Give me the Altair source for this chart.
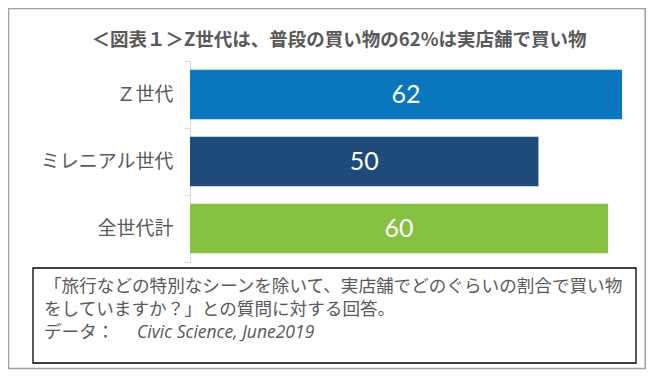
import altair as alt
import pandas as pd

# ---- data ----
categories = ["Ｚ世代", "ミレニアル世代", "全世代計"]
values = [62, 50, 60]
bar_colors = ["#0a76bd", "#1f4a7c", "#86c242"]

title_text = "＜図表１＞Z世代は、普段の買い物の62%は実店舗で買い物"
note_lines = [
    "「旅行などの特別なシーンを除いて、実店舗でどのぐらいの割合で買い物",
    "をしていますか？」との質問に対する回答。",
]
source_label = "データ："
source_text = "Civic Science, June2019"

df = pd.DataFrame({"cat": categories, "value": values})
one = pd.DataFrame({"k": [0]})

CJK = "Noto Sans CJK JP"
GRAY = "#595959"

y_enc = alt.Y(
    "cat:N",
    sort=categories,
    scale=alt.Scale(paddingInner=0, paddingOuter=0),
    axis=alt.Axis(
        title=None,
        labelFont=CJK,
        labelFontSize=19,
        labelColor=GRAY,
        labelPadding=11,
        tickSize=6,
        tickColor="#d9d9d9",
        domainColor="#d9d9d9",
        tickBand="extent",
        grid=False,
    ),
)
x_scale = alt.Scale(domain=[0, 64])

bars = alt.Chart(df).mark_bar(height=alt.RelativeBandSize(0.74)).encode(
    y=y_enc,
    x=alt.X("value:Q", scale=x_scale, axis=None),
    color=alt.Color("cat:N", scale=alt.Scale(domain=categories, range=bar_colors), legend=None),
)

labels = alt.Chart(df).transform_calculate(mid="datum.value / 2").mark_text(
    color="white", font="Lato", fontSize=25, baseline="middle", align="center"
).encode(
    y=alt.Y("cat:N", sort=categories),
    x=alt.X("mid:Q", scale=x_scale, axis=None),
    text=alt.Text("value:Q"),
)

outer = alt.Chart(one).mark_rect(fillOpacity=0, stroke="#a0a0a0", strokeWidth=1.5).encode(
    x=alt.value(-181.5), x2=alt.value(455.2), y=alt.value(-52.5), y2=alt.value(307.5)
)
box = alt.Chart(one).mark_rect(fillOpacity=0, stroke="#000000", strokeWidth=1.3).encode(
    x=alt.value(-157), x2=alt.value(446), y=alt.value(207), y2=alt.value(302)
)
title = alt.Chart(one).mark_text(
    font=CJK, fontSize=18.5, fontWeight="bold", color=GRAY, align="center", baseline="middle"
).encode(x=alt.value(149), y=alt.value(-21), text=alt.value(title_text))

notes = alt.Chart(one).mark_text(
    font=CJK, fontSize=17.6, color=GRAY, align="left", baseline="middle", lineHeight=23
).encode(x=alt.value(-146), y=alt.value(225.5), text=alt.value(note_lines))

src1 = alt.Chart(one).mark_text(
    font=CJK, fontSize=17.6, color=GRAY, align="left", baseline="middle"
).encode(x=alt.value(-146), y=alt.value(271.5), text=alt.value(source_label))

src2 = alt.Chart(one).mark_text(
    font="Open Sans", fontSize=17.5, fontStyle="italic", color=GRAY, align="left", baseline="middle"
).encode(x=alt.value(-53), y=alt.value(271.5), text=alt.value(source_text))

chart = alt.layer(outer, box, title, notes, src1, src2, bars, labels).properties(
    width=446,
    height=201,
    autosize=alt.AutoSizeParams(type="none"),
    padding={"left": 182, "top": 53, "right": 10, "bottom": 108},
).configure_view(stroke=None)

chart.save("out.html", embed_options={"renderer": "svg", "actions": False})
